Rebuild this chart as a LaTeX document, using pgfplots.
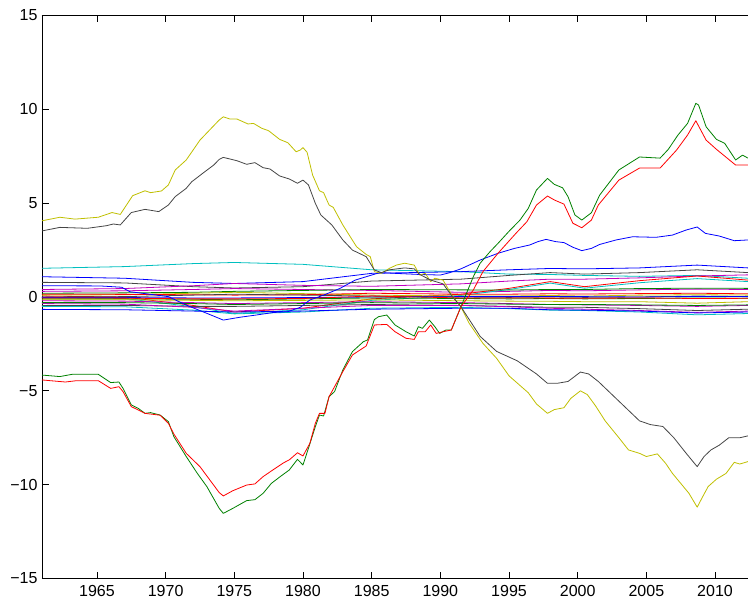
\documentclass[border=0pt]{standalone}
\usepackage{fontspec}
\setmainfont{Liberation Sans}
\usepackage{pgfplots}
\pgfplotsset{compat=1.18}
\usetikzlibrary{calc}
\definecolor{mblue}{rgb}{0,0,1}
\definecolor{mgreen}{rgb}{0,0.5,0}
\definecolor{mred}{rgb}{1,0,0}
\definecolor{mcyan}{rgb}{0,0.75,0.75}
\definecolor{mmag}{rgb}{0.75,0,0.75}
\definecolor{myel}{rgb}{0.75,0.75,0}
\definecolor{mgray}{rgb}{0.27,0.27,0.27}
\begin{document}
\begin{tikzpicture}
\begin{axis}[
  scale only axis, width=706pt, height=563pt,
  xmin=1961, xmax=2012.4, ymin=-15, ymax=15,
  axis x line=box, axis y line=left, axis line style={-, line width=0.9pt},
  tick align=inside, major tick length=6.5pt,
  xtick={1965,1970,1975,1980,1985,1990,1995,2000,2005,2010},
  xticklabels={1965,1970,1975,1980,1985,1990,1995,2000,2005,2010},
  ytick={-15,-10,-5,0,5,10,15},
  yticklabels={−15,−10,−5,0,5,10,15},
  tick style={line width=0.7pt, black},
  ticklabel style={font=\fontsize{16}{19}\selectfont},
  xticklabel style={yshift=-3.5pt},
  yticklabel style={xshift=-1pt},
  every axis plot/.append style={line width=0.8pt, line join=round},
]
\coordinate (SW) at (rel axis cs:0,0);
\coordinate (NE) at (rel axis cs:1,1);
% small lines
\addplot[mcyan] coordinates {(1961,1.53)(1967,1.62)(1972,1.78)(1975,1.84)(1980,1.74)(1985,1.45)(1991.5,1.35)(1995,1.22)(1998,1.2)(2000.5,1.15)(2004.5,1.1)(2008.7,1.15)(2012.4,1.0)};
\addplot[mblue] coordinates {(1961,1.08)(1967,1.0)(1972,0.78)(1975,0.72)(1980,0.82)(1985,1.26)(1991.5,1.35)(1995,1.45)(1998,1.52)(2000.5,1.5)(2004.5,1.55)(2008.7,1.7)(2012.4,1.55)};
\addplot[mgray] coordinates {(1961,0.78)(1967,0.75)(1972,0.55)(1975,0.48)(1980,0.55)(1985,0.85)(1991.5,0.95)(1995,1.15)(1998,1.3)(2000.5,1.22)(2004.5,1.3)(2008.7,1.45)(2012.4,1.3)};
\addplot[mmag] coordinates {(1961,0.4)(1967,0.45)(1972,0.6)(1975,0.72)(1980,0.62)(1985,0.57)(1991.5,0.7)(1995,0.85)(1998,0.95)(2000.5,0.95)(2004.5,1.02)(2008.7,1.12)(2012.4,1.18)};
\addplot[mmag] coordinates {(1961,0.3)(1967,0.33)(1972,0.4)(1975,0.45)(1980,0.4)(1985,0.35)(1991.5,0.25)(1995,0.3)(1998,0.35)(2000.5,0.33)(2004.5,0.38)(2008.7,0.42)(2012.4,0.4)};
\addplot[mred] coordinates {(1961,0.05)(1967,0.0)(1972,-0.45)(1975,-0.8)(1980,-0.6)(1985,-0.1)(1991.5,0.15)(1995,0.46)(1998,0.82)(2000.5,0.55)(2004.5,0.87)(2008.7,1.12)(2012.4,0.9)};
\addplot[mcyan] coordinates {(1961,-0.02)(1967,-0.08)(1972,-0.52)(1975,-0.88)(1980,-0.68)(1985,-0.18)(1991.5,0.08)(1995,0.4)(1998,0.74)(2000.5,0.47)(2004.5,0.76)(2008.7,0.98)(2012.4,0.82)};
\addplot[mgreen] coordinates {(1961,0.2)(1967,0.22)(1972,0.25)(1975,0.3)(1980,0.35)(1985,0.4)(1991.5,0.38)(1995,0.37)(1998,0.4)(2000.5,0.4)(2004.5,0.45)(2008.7,0.47)(2012.4,0.46)};
\addplot[myel] coordinates {(1961,0.1)(1967,0.12)(1972,0.2)(1975,0.25)(1980,0.18)(1985,0.1)(1991.5,0.05)(1995,0.05)(1998,0.08)(2000.5,0.05)(2004.5,0.1)(2008.7,0.12)(2012.4,0.1)};
\addplot[mred] coordinates {(1961,0.15)(1967,0.14)(1972,0.12)(1975,0.1)(1980,0.12)(1985,0.2)(1991.5,0.15)(1995,0.15)(1998,0.17)(2000.5,0.16)(2004.5,0.18)(2008.7,0.2)(2012.4,0.17)};
\addplot[mgray] coordinates {(1961,0.0)(1967,0.02)(1972,0.1)(1975,0.15)(1980,0.1)(1985,0.05)(1991.5,0.0)(1995,-0.02)(1998,0.0)(2000.5,-0.02)(2004.5,0.0)(2008.7,0.05)(2012.4,0.02)};
\addplot[mblue] coordinates {(1961,-0.02)(1967,-0.03)(1972,-0.05)(1975,-0.05)(1980,-0.03)(1985,0.0)(1991.5,0.02)(1995,0.02)(1998,0.03)(2000.5,0.02)(2004.5,0.0)(2008.7,0.03)(2012.4,0.02)};
\addplot[mgreen] coordinates {(1961,-0.1)(1967,-0.1)(1972,-0.12)(1975,-0.15)(1980,-0.1)(1985,-0.05)(1991.5,-0.08)(1995,-0.1)(1998,-0.08)(2000.5,-0.1)(2004.5,-0.08)(2008.7,-0.05)(2012.4,-0.07)};
\addplot[mred] coordinates {(1961,-0.05)(1967,-0.06)(1972,-0.1)(1975,-0.1)(1980,-0.08)(1985,0.05)(1991.5,-0.05)(1995,-0.05)(1998,-0.06)(2000.5,-0.07)(2004.5,-0.05)(2008.7,-0.08)(2012.4,-0.07)};
\addplot[myel] coordinates {(1961,-0.15)(1967,-0.15)(1972,-0.18)(1975,-0.2)(1980,-0.18)(1985,-0.15)(1991.5,-0.2)(1995,-0.22)(1998,-0.23)(2000.5,-0.25)(2004.5,-0.25)(2008.7,-0.33)(2012.4,-0.25)};
\addplot[mmag] coordinates {(1961,-0.2)(1967,-0.22)(1972,-0.3)(1975,-0.35)(1980,-0.3)(1985,-0.25)(1991.5,-0.3)(1995,-0.35)(1998,-0.4)(2000.5,-0.42)(2004.5,-0.45)(2008.7,-0.5)(2012.4,-0.45)};
\addplot[mgray] coordinates {(1961,-0.45)(1967,-0.45)(1972,-0.5)(1975,-0.5)(1980,-0.45)(1985,-0.4)(1991.5,-0.45)(1995,-0.5)(1998,-0.55)(2000.5,-0.55)(2004.5,-0.62)(2008.7,-0.72)(2012.4,-0.65)};
\addplot[mmag] coordinates {(1961,-0.35)(1967,-0.38)(1972,-0.55)(1975,-0.75)(1980,-0.6)(1985,-0.45)(1991.5,-0.45)(1995,-0.52)(1998,-0.6)(2000.5,-0.65)(2004.5,-0.72)(2008.7,-0.82)(2012.4,-0.75)};
\addplot[mcyan] coordinates {(1961,-0.5)(1967,-0.52)(1972,-0.7)(1975,-0.9)(1980,-0.8)(1985,-0.6)(1991.5,-0.55)(1995,-0.62)(1998,-0.7)(2000.5,-0.72)(2004.5,-0.8)(2008.7,-0.95)(2012.4,-0.88)};
\addplot[mblue] coordinates {(1961,-0.66)(1967,-0.68)(1972,-0.75)(1975,-0.8)(1980,-0.75)(1985,-0.65)(1991.5,-0.6)(1995,-0.6)(1998,-0.68)(2000.5,-0.7)(2004.5,-0.75)(2008.7,-0.85)(2012.4,-0.8)};
\addplot[mgreen] coordinates {(1961,-0.3)(1967,-0.3)(1972,-0.35)(1975,-0.4)(1980,-0.35)(1985,-0.3)(1991.5,-0.35)(1995,-0.38)(1998,-0.4)(2000.5,-0.4)(2004.5,-0.42)(2008.7,-0.45)(2012.4,-0.42)};
% big blue
\addplot[mblue] coordinates {(1961,0.6)(1965.2,0.59)(1966.8,0.52)(1967.4,0.28)(1968.4,0.19)(1970.2,0.02)(1971.5,-0.43)(1973.0,-0.87)(1974.2,-1.23)(1975.4,-1.08)(1976.6,-0.96)(1977.8,-0.83)(1978.9,-0.78)(1979.8,-0.55)(1980.5,-0.16)(1981.5,0.1)(1982.7,0.46)(1983.8,0.9)(1985.0,1.17)(1985.6,1.3)(1987,1.25)(1988.5,1.2)(1990,1.17)(1990.7,1.3)(1991.5,1.5)(1992.9,1.97)(1994.2,2.33)(1995.4,2.59)(1996.5,2.77)(1997.1,2.95)(1997.7,3.07)(1998.4,2.95)(1999.0,2.9)(1999.65,2.65)(2000.3,2.47)(2001.0,2.59)(2001.6,2.8)(2002.8,3.04)(2004,3.21)(2005.7,3.18)(2006.9,3.3)(2007.9,3.57)(2008.7,3.73)(2009.3,3.39)(2010.3,3.25)(2011.4,3.0)(2012.4,3.04)};
% green
\addplot[mgreen] coordinates {(1961,-4.16)(1962.3,-4.24)(1963.2,-4.12)(1965.1,-4.12)(1966.0,-4.56)(1966.6,-4.53)(1966.9,-4.87)(1967.5,-5.75)(1968.0,-5.93)(1968.5,-6.2)(1968.9,-6.16)(1969.6,-6.29)(1970.2,-6.64)(1970.6,-7.44)(1971.5,-8.5)(1972.3,-9.39)(1973.0,-10.1)(1973.9,-11.26)(1974.2,-11.53)(1974.9,-11.26)(1975.9,-10.85)(1976.5,-10.8)(1977.1,-10.46)(1977.7,-9.93)(1978.4,-9.54)(1979.0,-9.22)(1979.6,-8.65)(1980.0,-8.95)(1980.4,-8.06)(1980.9,-6.91)(1981.2,-6.29)(1981.5,-6.34)(1981.9,-5.31)(1982.3,-5.04)(1982.9,-3.89)(1983.6,-2.91)(1984.4,-2.38)(1984.7,-2.29)(1985.2,-1.2)(1985.5,-1.05)(1986.1,-0.96)(1986.7,-1.49)(1987.5,-1.85)(1988.1,-2.08)(1988.4,-1.58)(1988.7,-1.67)(1989.2,-1.23)(1989.6,-1.58)(1989.95,-1.94)(1990.4,-1.76)(1990.8,-1.76)(1991.5,-0.52)(1992.4,1.08)(1992.9,1.8)(1993.6,2.4)(1994.2,2.86)(1995.0,3.5)(1995.8,4.1)(1996.4,4.72)(1997.0,5.7)(1997.8,6.32)(1998.3,6.0)(1998.9,5.82)(1999.3,5.34)(1999.8,4.37)(2000.3,4.1)(2001.0,4.49)(2001.6,5.43)(2003,6.77)(2004.5,7.46)(2006,7.4)(2006.6,7.87)(2007.3,8.63)(2008.0,9.25)(2008.6,10.32)(2008.8,10.23)(2009.35,9.07)(2010.1,8.4)(2010.7,8.19)(2011.5,7.3)(2012,7.56)(2012.4,7.4)};
% red
\addplot[mred] coordinates {(1961,-4.42)(1962.7,-4.53)(1963.5,-4.46)(1965.1,-4.46)(1966.0,-4.87)(1966.6,-4.78)(1966.9,-5.04)(1967.5,-5.84)(1968.5,-6.2)(1969.6,-6.3)(1970.2,-6.73)(1970.6,-7.3)(1971.5,-8.33)(1972.5,-9.04)(1973.9,-10.42)(1974.2,-10.6)(1974.9,-10.32)(1975.9,-10.02)(1976.5,-9.96)(1977.1,-9.57)(1977.8,-9.22)(1978.6,-8.83)(1979.0,-8.68)(1979.6,-8.3)(1980.0,-8.47)(1980.5,-7.8)(1980.9,-6.73)(1981.2,-6.2)(1981.6,-6.2)(1981.9,-5.31)(1982.9,-3.98)(1983.6,-3.09)(1984.6,-2.61)(1985.2,-1.49)(1986.1,-1.46)(1986.7,-1.85)(1987.5,-2.2)(1988.1,-2.26)(1988.4,-1.85)(1988.9,-1.85)(1989.3,-1.49)(1989.7,-1.94)(1990.2,-1.85)(1990.8,-1.76)(1991.5,-0.52)(1992.4,0.37)(1993.1,1.35)(1994.2,2.33)(1995.5,3.39)(1996.3,4.01)(1997.0,4.9)(1997.8,5.38)(1998.3,5.17)(1999.0,4.95)(1999.65,3.93)(2000.3,3.69)(2001.0,4.1)(2001.5,4.9)(2003,6.23)(2004.5,6.87)(2006,6.87)(2007.2,7.83)(2008.0,8.63)(2008.6,9.39)(2009.35,8.36)(2010.1,7.87)(2011.5,7.03)(2012.4,7.03)};
% yellow
\addplot[myel] coordinates {(1961,4.06)(1962.3,4.25)(1963.4,4.15)(1965.1,4.25)(1966.1,4.5)(1966.7,4.4)(1967.6,5.4)(1968.5,5.66)(1968.9,5.56)(1969.7,5.65)(1970.2,5.97)(1970.7,6.77)(1971.5,7.3)(1972.0,7.83)(1972.5,8.36)(1973.9,9.43)(1974.2,9.6)(1974.7,9.48)(1975.2,9.48)(1976.0,9.22)(1976.4,9.25)(1977.0,8.99)(1977.5,8.86)(1978.3,8.4)(1978.9,8.22)(1979.5,7.74)(1979.8,7.83)(1980.0,7.96)(1980.3,7.71)(1980.7,6.5)(1981.2,5.66)(1981.5,5.56)(1981.9,4.9)(1982.2,4.78)(1982.9,3.84)(1983.9,2.68)(1984.6,2.27)(1984.9,2.15)(1985.2,1.35)(1985.7,1.26)(1986.3,1.53)(1986.8,1.7)(1987.4,1.8)(1988.1,1.7)(1988.5,1.17)(1988.9,1.26)(1989.3,0.82)(1989.6,1.0)(1990.2,0.9)(1990.9,0.02)(1991.5,-0.52)(1992.1,-1.4)(1993.1,-2.47)(1994.1,-3.27)(1995,-4.2)(1996.4,-5.1)(1997.0,-5.7)(1997.8,-6.2)(1998.3,-6.0)(1999.0,-5.9)(1999.5,-5.4)(2000.2,-5.0)(2000.7,-5.2)(2001.3,-5.8)(2002.0,-6.6)(2003.0,-7.5)(2003.7,-8.15)(2004.5,-8.33)(2005.0,-8.5)(2005.8,-8.36)(2006.4,-8.86)(2006.9,-9.4)(2007.5,-9.93)(2008.1,-10.46)(2008.7,-11.2)(2009.1,-10.64)(2009.5,-10.1)(2010.1,-9.71)(2010.8,-9.4)(2011.4,-8.81)(2011.8,-8.9)(2012.4,-8.77)};
% gray
\addplot[mgray] coordinates {(1961,3.52)(1962.3,3.71)(1964.3,3.66)(1965.7,3.8)(1966.2,3.89)(1966.7,3.84)(1967.5,4.5)(1968.5,4.67)(1969.5,4.55)(1970.2,4.9)(1970.7,5.35)(1971.5,5.79)(1971.9,6.14)(1972.7,6.59)(1973.5,7.03)(1973.9,7.33)(1974.2,7.44)(1975.2,7.26)(1975.9,7.07)(1976.5,7.16)(1977.1,6.89)(1977.6,6.82)(1978.3,6.45)(1979.0,6.29)(1979.6,6.06)(1980.0,6.23)(1980.4,5.97)(1980.9,4.99)(1981.3,4.37)(1982.1,3.84)(1982.9,3.04)(1983.6,2.5)(1984.6,2.15)(1985.2,1.44)(1985.7,1.3)(1986.3,1.45)(1987.4,1.55)(1988.1,1.5)(1988.5,1.2)(1989.3,0.9)(1990.2,0.7)(1990.9,0.0)(1991.5,-0.52)(1992.9,-2.1)(1994.1,-2.9)(1995.6,-3.4)(1997,-4.1)(1997.8,-4.6)(1998.5,-4.6)(1999.3,-4.5)(2000.2,-4.0)(2000.8,-4.1)(2001.5,-4.5)(2002.5,-5.2)(2003.5,-5.9)(2004.5,-6.6)(2005.3,-6.8)(2006.2,-6.9)(2007,-7.5)(2007.9,-8.33)(2008.7,-9.04)(2009.2,-8.5)(2009.7,-8.15)(2010.3,-7.9)(2011,-7.5)(2011.8,-7.5)(2012.4,-7.4)};
\end{axis}
\pgfresetboundingbox
\path[use as bounding box] ($(SW)+(-42pt,-24.5pt)$) rectangle ($(NE)+(0pt,15.5pt)$);
\end{tikzpicture}
\end{document}
